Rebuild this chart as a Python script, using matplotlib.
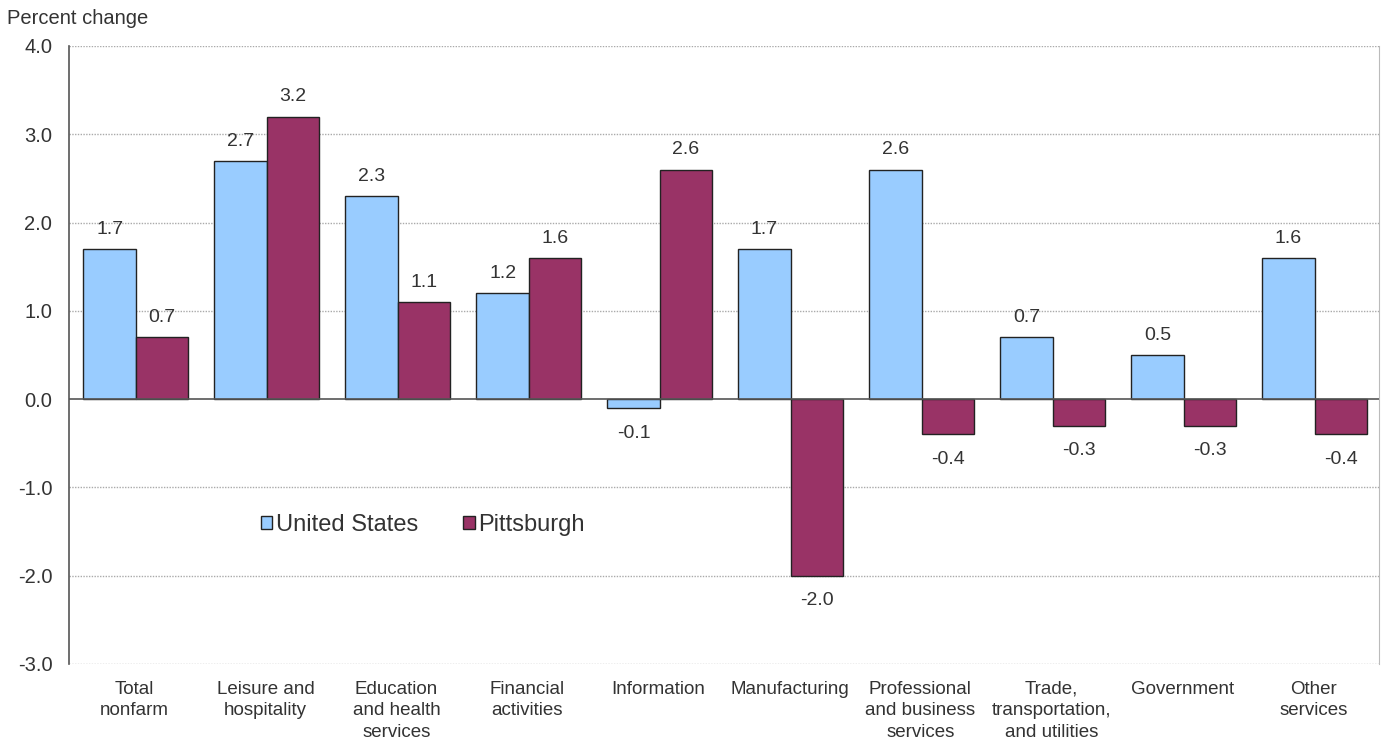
import matplotlib.pyplot as plt
import numpy as np

plt.rcParams['font.family'] = ['Liberation Sans', 'DejaVu Sans']

categories = ["Total\nnonfarm", "Leisure and\nhospitality", "Education\nand health\nservices",
              "Financial\nactivities", "Information", "Manufacturing",
              "Professional\nand business\nservices", "Trade,\ntransportation,\nand utilities",
              "Government", "Other\nservices"]
us_vals = [1.7, 2.7, 2.3, 1.2, -0.1, 1.7, 2.6, 0.7, 0.5, 1.6]
pitt_vals = [0.7, 3.2, 1.1, 1.6, 2.6, -2.0, -0.4, -0.3, -0.3, -0.4]
series_names = ["United States", "Pittsburgh"]
yticks = [4.0, 3.0, 2.0, 1.0, 0.0, -1.0, -2.0, -3.0]

txt = '#333333'
fig = plt.figure(figsize=(13.83, 7.41), dpi=100)
ax = fig.add_axes([0.0499, 0.104, 0.9471, 0.834])

x = np.arange(len(categories))
w = 0.4
b1 = ax.bar(x - w / 2 + 0.01, us_vals, w, color='#99CCFF', edgecolor='#222222', linewidth=1.0,
            label=series_names[0], zorder=3)
b2 = ax.bar(x + w / 2 + 0.01, pitt_vals, w, color='#993366', edgecolor='#222222', linewidth=1.0,
            label=series_names[1], zorder=3)

# value labels above positive bars, below negative ones
for bars, vals in ((b1, us_vals), (b2, pitt_vals)):
    for r, v in zip(bars, vals):
        cx = r.get_x() + r.get_width() / 2
        if v >= 0:
            ax.annotate(f"{v:.1f}", (cx, v), xytext=(0, 8), textcoords='offset points',
                        ha='center', va='bottom', fontsize=14, color=txt)
        else:
            ax.annotate(f"{v:.1f}", (cx, v), xytext=(0, -12), textcoords='offset points',
                        ha='center', va='top', fontsize=14, color=txt)

ax.set_xlim(-0.5, len(categories) - 0.5)
ax.set_ylim(-3.0, 4.0)
ax.set_yticks(yticks)
ax.set_yticklabels([f"{t:.1f}" for t in yticks], fontsize=14.5, color=txt)
ax.set_xticks(x)
ax.set_xticklabels(categories, fontsize=13.5, color=txt, linespacing=1.35)
ax.tick_params(axis='both', length=0)
ax.tick_params(axis='x', pad=12)
ax.tick_params(axis='y', pad=12)

for t in yticks:
    if t != 0:
        ax.axhline(t, color='#aaaaaa', linestyle=(0, (1, 1)), linewidth=1.0, zorder=1)
ax.axhline(0, color='#555555', linewidth=1.2, zorder=4)

for s in ['top', 'bottom']:
    ax.spines[s].set_visible(False)
ax.spines['right'].set_color('#bbbbbb')
ax.spines['right'].set_linestyle((0, (1, 1)))
ax.spines['left'].set_color('#555555')
ax.spines['left'].set_linewidth(1.2)

ax.legend(loc='center left', bbox_to_anchor=(0.13, 0.225), ncol=2, frameon=False,
          fontsize=17, handlelength=0.5, handleheight=0.5, handletextpad=0.15,
          columnspacing=1.9, labelcolor=txt)

fig.text(0.005, 0.975, "Percent change", fontsize=14.5, color=txt, ha='left', va='center')

fig.savefig("out.png", dpi=100)
